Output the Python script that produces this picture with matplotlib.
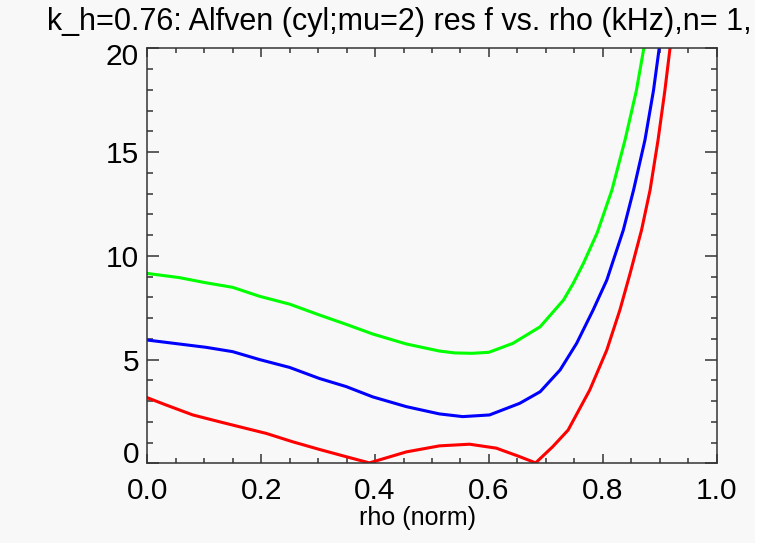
import matplotlib
matplotlib.use("Agg")
import matplotlib.pyplot as plt
from matplotlib.patches import Rectangle
from matplotlib.ticker import MultipleLocator
from matplotlib.transforms import ScaledTranslation

plt.rcParams['font.family'] = ['Liberation Sans', 'DejaVu Sans']

# values
rho_green = [0.0, 0.056, 0.103, 0.15, 0.197, 0.25, 0.302, 0.349, 0.396, 0.455, 0.513,
             0.54, 0.57, 0.60, 0.642, 0.69, 0.731, 0.748, 0.766, 0.79, 0.816, 0.839,
             0.859, 0.872, 0.878]
f_green = [9.15, 8.95, 8.7, 8.48, 8.05, 7.67, 7.15, 6.7, 6.23, 5.75, 5.41,
           5.32, 5.3, 5.35, 5.78, 6.58, 7.87, 8.67, 9.64, 11.1, 13.17, 15.58,
           17.97, 20.0, 21.0]

rho_blue = [0.0, 0.056, 0.103, 0.15, 0.197, 0.25, 0.302, 0.349, 0.396, 0.455, 0.513,
            0.554, 0.601, 0.654, 0.69, 0.725, 0.754, 0.783, 0.807, 0.836, 0.854,
            0.874, 0.889, 0.899, 0.905]
f_blue = [5.94, 5.75, 5.59, 5.38, 5.0, 4.62, 4.09, 3.7, 3.2, 2.73, 2.38,
          2.25, 2.33, 2.89, 3.45, 4.5, 5.78, 7.39, 8.83, 11.24, 13.17,
          15.58, 17.97, 20.0, 21.0]

rho_red = [0.0, 0.033, 0.08, 0.127, 0.162, 0.209, 0.255, 0.302, 0.349, 0.39, 0.455,
           0.513, 0.566, 0.613, 0.654, 0.682, 0.712, 0.739, 0.777, 0.807, 0.83,
           0.848, 0.868, 0.883, 0.897, 0.909, 0.918, 0.922]
f_red = [3.16, 2.81, 2.33, 2.0, 1.76, 1.44, 1.04, 0.67, 0.32, 0.02, 0.55,
         0.84, 0.92, 0.73, 0.32, 0.02, 0.8, 1.6, 3.53, 5.46, 7.39,
         9.16, 11.24, 13.17, 15.58, 17.97, 20.0, 21.0]

xticks = [0.0, 0.2, 0.4, 0.6, 0.8, 1.0]
xticklabels = ['0.0', '0.2', '0.4', '0.6', '0.8', '1.0']
yticks = [0, 5, 10, 15, 20]

# the title runs past the plot window in the original and is cut there
title = "k_h=0.76: Alfven (cyl;mu=2) res f vs. rho (kHz),n= 1, m= 2"
bg = '#f8f8f8'
axc = '#333333'

fig = plt.figure(figsize=(7.74, 5.53), dpi=100, facecolor='white')
panel = Rectangle((0, 1 - 543 / 553), 755 / 774, 543 / 553, transform=fig.transFigure,
                  facecolor=bg, edgecolor='none', zorder=-10)
fig.patches.append(panel)

ax = fig.add_axes([147.3 / 774, (553 - 463.3) / 553, 569.4 / 774, 415 / 553])
ax.set_facecolor(bg)

ax.plot(rho_green, f_green, color='#00ff00', lw=2.2)
ax.plot(rho_blue, f_blue, color='#0000ff', lw=2.2)
ax.plot(rho_red, f_red, color='#ff0000', lw=2.2)

ax.set_xlim(0, 1)
ax.set_ylim(0, 20)
ax.set_xticks(xticks)
ax.set_xticklabels(xticklabels)
ax.set_yticks(yticks)
ax.xaxis.set_minor_locator(MultipleLocator(0.05))
ax.yaxis.set_minor_locator(MultipleLocator(1))

for s in ax.spines.values():
    s.set_color(axc)
    s.set_linewidth(1.1)

ax.tick_params(which='both', direction='in', top=True, right=True, color=axc,
               width=1.1, labelsize=21.5, labelcolor='black')
ax.tick_params(axis='x', which='major', length=6.5, pad=10)
ax.tick_params(axis='x', which='minor', length=3.6)
ax.tick_params(axis='y', which='major', length=8.6, pad=6)
ax.tick_params(axis='y', which='minor', length=4.3)

ylabs = ax.get_yticklabels()
ylabs[0].set_va('baseline')
ylabs[-1].set_transform(ylabs[-1].get_transform()
                        + ScaledTranslation(0, -4 / 72, fig.dpi_scale_trans))

ax.set_xlabel("rho (norm)", fontsize=18)
ax.xaxis.set_label_coords((417 - 147.3) / 569.4, (463.3 - 506) / 415)

t = fig.text(47 / 774, 1 - 30 / 553, title, fontsize=22, ha='left', va='baseline')
t.set_clip_path(panel)

fig.savefig("out.png", dpi=100, facecolor=fig.get_facecolor())
